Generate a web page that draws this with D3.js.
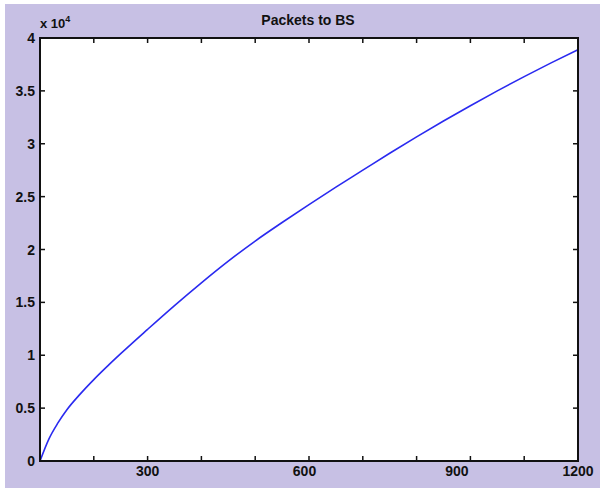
<!DOCTYPE html>
<html><head><meta charset="utf-8">
<script src="https://cdn.jsdelivr.net/npm/d3@7"></script>
<style>body{margin:0;background:#fff}svg{display:block}text{font-family:Arial,"Liberation Sans",sans-serif;font-weight:bold;fill:#111}</style>
</head><body>
<script>
const title = "Packets to BS";
const xValues = [0, 20, 40, 60, 90, 120, 150, 180, 240, 300, 360, 420, 480, 540, 600, 660, 720, 780, 840, 900, 960, 1020, 1080, 1140, 1200];
const yValues = [0, 2100, 3600, 4850, 6350, 7700, 8950, 10150, 12450, 14700, 16850, 18900, 20800, 22550, 24250, 25900, 27500, 29100, 30650, 32150, 33600, 35000, 36350, 37650, 38900];
const xTickValues = [0,120,240,360,480,600,720,840,960,1080,1200];
const xLabelValues = [240, 590, 930, 1200];
const xLabelTexts = ["300", "600", "900", "1200"];
const yTickValues = [0,5000,10000,15000,20000,25000,30000,35000,40000];
const yTickLabels = ["0","0.5","1","1.5","2","2.5","3","3.5","4"];

const W=600,H=488;
const L=40,R=578,T=38,B=461;
const svg=d3.select("body").append("svg").attr("width",W).attr("height",H);
svg.append("rect").attr("x",5).attr("y",4).attr("width",W-5).attr("height",H-4).attr("fill","#c7c0e4");
svg.append("rect").attr("x",L).attr("y",T).attr("width",R-L).attr("height",B-T).attr("fill","#fff");

const x=d3.scaleLinear().domain([0,1200]).range([L,R]);
const y=d3.scaleLinear().domain([0,40000]).range([B,T]);

const g=svg.append("g").attr("stroke","#111").attr("stroke-width",1.5);
xTickValues.forEach(v=>{
  g.append("line").attr("x1",x(v)).attr("x2",x(v)).attr("y1",B).attr("y2",B-5);
  g.append("line").attr("x1",x(v)).attr("x2",x(v)).attr("y1",T).attr("y2",T+5);
});
yTickValues.forEach(v=>{
  g.append("line").attr("x1",L).attr("x2",L+5).attr("y1",y(v)).attr("y2",y(v));
  g.append("line").attr("x1",R).attr("x2",R-5).attr("y1",y(v)).attr("y2",y(v));
});

const line=d3.line().x((d,i)=>x(xValues[i])).y(d=>y(d)).curve(d3.curveMonotoneX);
svg.append("path").attr("d",line(yValues)).attr("fill","none").attr("stroke","#2a2af0").attr("stroke-width",1.6);

svg.append("rect").attr("x",L).attr("y",T).attr("width",R-L).attr("height",B-T).attr("fill","none").attr("stroke","#111").attr("stroke-width",2);

yTickValues.forEach((v,i)=>{
  svg.append("text").attr("x",L-5).attr("y",y(v)+5).attr("text-anchor","end").attr("font-size",14).text(yTickLabels[i]);
});
xLabelValues.forEach((v,i)=>{
  svg.append("text").attr("x",x(v)).attr("y",B+15).attr("text-anchor","middle").attr("font-size",14).text(xLabelTexts[i]);
});
const e=svg.append("text").attr("x",40).attr("y",28).attr("font-size",13);
e.append("tspan").text("x 10");
e.append("tspan").attr("dy",-6).attr("font-size",9).text("4");
svg.append("text").attr("x",308).attr("y",25).attr("text-anchor","middle").attr("font-size",14).text(title);
</script>
</body></html>
